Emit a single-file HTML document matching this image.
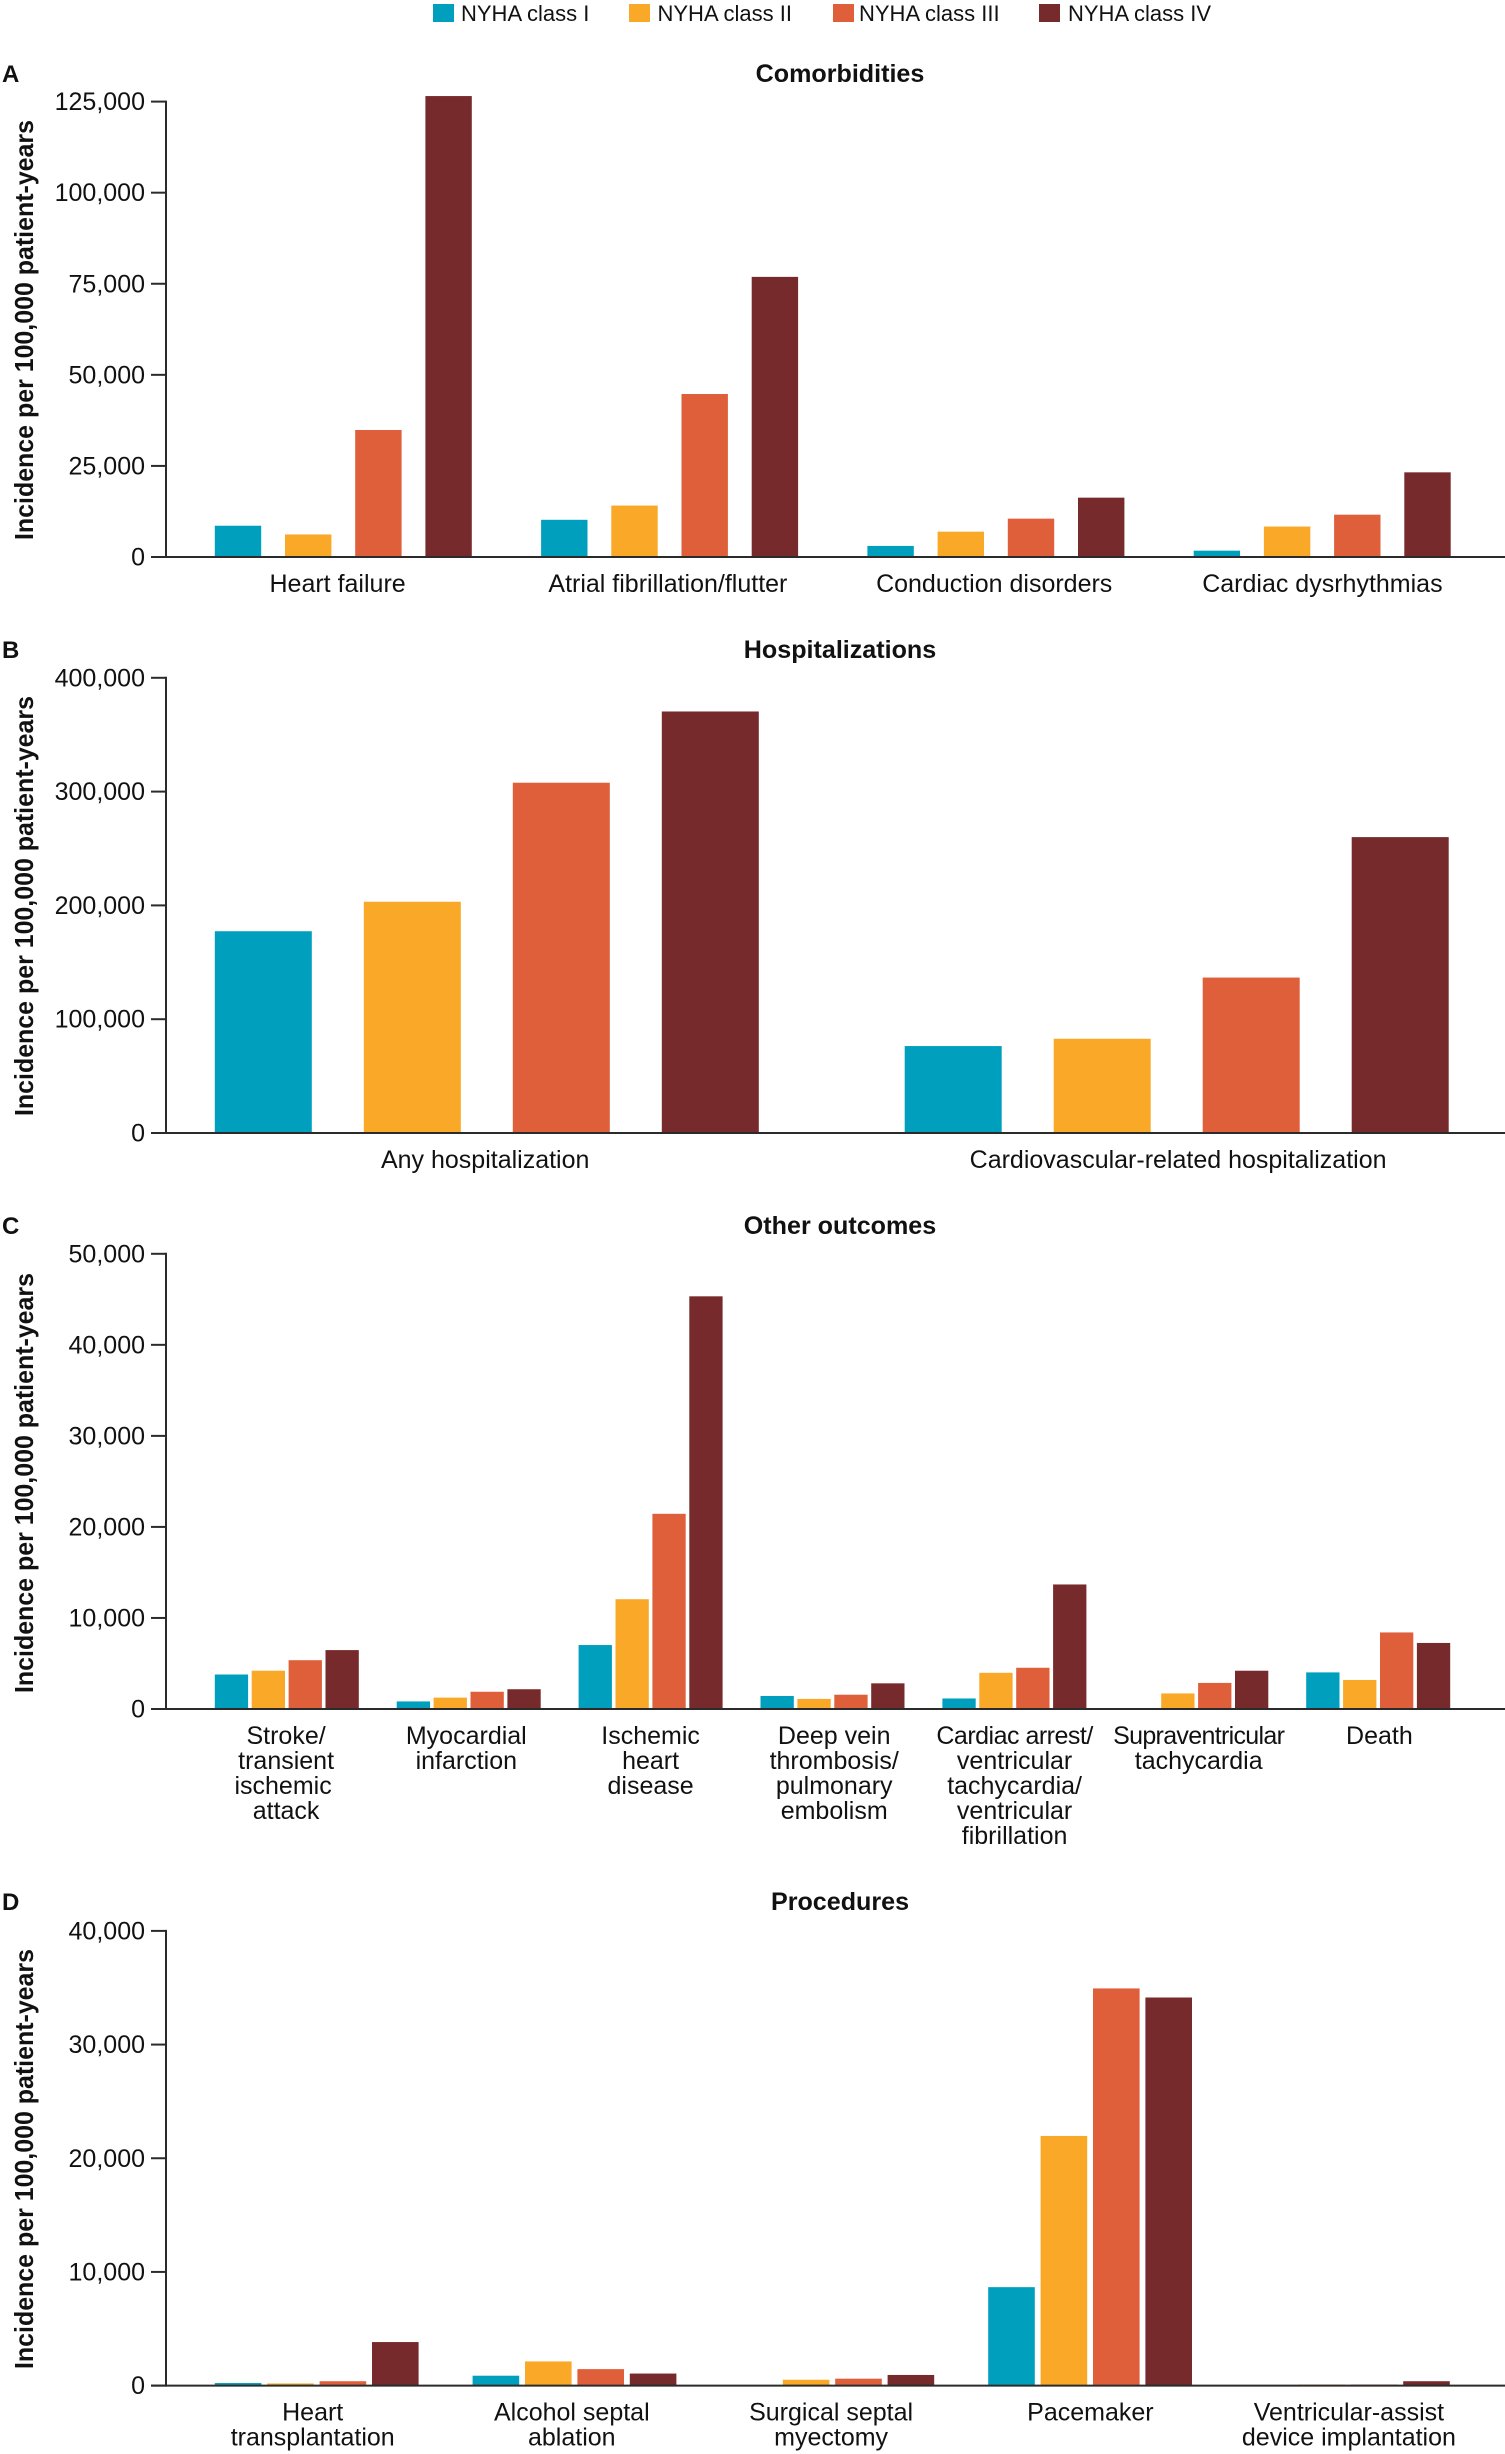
<!DOCTYPE html>
<html lang="en">
<head>
<meta charset="utf-8">
<title>Incidence by NYHA class</title>
<style>
html,body{margin:0;padding:0;background:#fff;}
svg{display:block;}
text{font-family:"Liberation Sans",sans-serif;fill:#111;}
.tick{font-size:25px;text-anchor:end;}
.cat{font-size:25px;text-anchor:middle;}
.legend{font-size:22px;}
.title{font-size:25.1px;font-weight:bold;text-anchor:middle;}
.letter{font-size:24px;font-weight:bold;}
.ytitle{font-size:26px;font-weight:bold;text-anchor:middle;}
</style>
</head>
<body>
<svg id="chart" xmlns="http://www.w3.org/2000/svg" width="1505" height="2454" viewBox="0 0 1505 2454">
  <g>
    <g><rect x="433" y="4" width="21" height="18" fill="#009FBD"/><text class="legend" x="461" y="21">NYHA class I</text></g>
    <g><rect x="629" y="4" width="21" height="18" fill="#FAA828"/><text class="legend" x="657.5" y="21">NYHA class II</text></g>
    <g><rect x="833" y="4" width="21" height="18" fill="#DE5F3A"/><text class="legend" x="859" y="21">NYHA class III</text></g>
    <g><rect x="1039" y="4" width="21" height="18" fill="#772A2B"/><text class="legend" x="1068" y="21">NYHA class IV</text></g>
  </g>

  <text class="letter" x="2" y="82">A</text>
  <text class="title" x="840" y="82">Comorbidities</text>
  <text class="ytitle" transform="translate(33,330) rotate(-90)" textLength="420" lengthAdjust="spacingAndGlyphs">Incidence per 100,000 patient-years</text>

  <text class="letter" x="2" y="658">B</text>
  <text class="title" x="840" y="658">Hospitalizations</text>
  <text class="ytitle" transform="translate(33,906) rotate(-90)" textLength="420" lengthAdjust="spacingAndGlyphs">Incidence per 100,000 patient-years</text>

  <text class="letter" x="2" y="1234">C</text>
  <text class="title" x="840" y="1234">Other outcomes</text>
  <text class="ytitle" transform="translate(33,1483) rotate(-90)" textLength="420" lengthAdjust="spacingAndGlyphs">Incidence per 100,000 patient-years</text>

  <text class="letter" x="2" y="1910">D</text>
  <text class="title" x="840" y="1910">Procedures</text>
  <text class="ytitle" transform="translate(33,2159) rotate(-90)" textLength="420" lengthAdjust="spacingAndGlyphs">Incidence per 100,000 patient-years</text>
</svg>
<script>
// Series colours
const classColors = ['#009FBD', '#FAA828', '#DE5F3A', '#772A2B'];

// Panel A: comorbidities
const comorbidityCategories = [['Heart failure'], ['Atrial fibrillation/flutter'], ['Conduction disorders'], ['Cardiac dysrhythmias']];
const comorbidityTicks = [0, 25000, 50000, 75000, 100000, 125000];
const comorbidityClass1 = [8580, 10210, 3040, 1740];
const comorbidityClass2 = [6190, 14120, 6950, 8360];
const comorbidityClass3 = [34860, 44740, 10530, 11620];
const comorbidityClass4 = [126520, 76890, 16290, 23240];

// Panel B: hospitalizations
const hospitalCategories = [['Any hospitalization'], ['Cardiovascular-related hospitalization']];
const hospitalTicks = [0, 100000, 200000, 300000, 400000];
const hospitalClass1 = [177300, 76400];
const hospitalClass2 = [203200, 82800];
const hospitalClass3 = [307800, 136600];
const hospitalClass4 = [370400, 260000];

// Panel C: other outcomes
const outcomeCategories = [
  ['Stroke/', 'transient', 'ischemic', 'attack'],
  ['Myocardial', 'infarction'],
  ['Ischemic', 'heart', 'disease'],
  ['Deep vein', 'thrombosis/', 'pulmonary', 'embolism'],
  ['Cardiac arrest/', 'ventricular', 'tachycardia/', 'ventricular', 'fibrillation'],
  ['Supraventricular', 'tachycardia'],
  ['Death']
];
const outcomeTicks = [0, 10000, 20000, 30000, 40000, 50000];
const outcomeClass1 = [3790, 830, 7025, 1430, 1155, 0, 4020];
const outcomeClass2 = [4205, 1250, 12060, 1110, 3975, 1710, 3190];
const outcomeClass3 = [5360, 1895, 21440, 1570, 4530, 2865, 8410];
const outcomeClass4 = [6470, 2170, 45330, 2820, 13680, 4205, 7255];

// Panel D: procedures
const procedureCategories = [
  ['Heart', 'transplantation'],
  ['Alcohol septal', 'ablation'],
  ['Surgical septal', 'myectomy'],
  ['Pacemaker'],
  ['Ventricular-assist', 'device implantation']
];
const procedureTicks = [0, 10000, 20000, 30000, 40000];
const procedureClass1 = [225, 870, 0, 8660, 0];
const procedureClass2 = [190, 2125, 515, 21960, 95];
const procedureClass3 = [385, 1450, 610, 34940, 95];
const procedureClass4 = [3830, 1060, 935, 34140, 385];

const SVG_NS = 'http://www.w3.org/2000/svg';
const svgRoot = document.getElementById('chart');

function makeEl(tag, parent, attrs) {
  const el = document.createElementNS(SVG_NS, tag);
  for (const k in attrs) el.setAttribute(k, attrs[k]);
  parent.appendChild(el);
  return el;
}

function formatTick(v) {
  return v.toString().replace(/\B(?=(\d{3})+$)/g, ',');
}

function drawPanel(p) {
  const g = makeEl('g', svgRoot, {});
  
  

  const maxTick = p.ticks[p.ticks.length - 1];
  const yScale = v => p.base - (v / maxTick) * (p.base - p.top);
  const groupX = i => p.firstX + i * p.groupStep;
  const barX = (i, s) => groupX(i) + s * p.barStep;

  // bars
  p.series.forEach((values, s) => {
    values.forEach((v, i) => {
      const rect = makeEl('rect', g, {
        x: barX(i, s).toFixed(2),
        y: yScale(v).toFixed(2),
        width: p.barW,
        height: (p.base - yScale(v)).toFixed(2),
        fill: classColors[s]
      });
      
      
    });
  });

  // axes
  const yAxis = makeEl('line', g, { x1: 166, x2: 166, y1: p.top - 1, y2: p.base + 1, stroke: '#2b2b2b', 'stroke-width': 2 });
  
  
  const xAxis = makeEl('line', g, { x1: 151, x2: 1505, y1: p.base, y2: p.base, stroke: '#2b2b2b', 'stroke-width': 2 });
  
  

  // ticks
  p.ticks.forEach(t => {
    const y = yScale(t);
    const mark = makeEl('line', g, { x1: 151, x2: 166, y1: y, y2: y, stroke: '#2b2b2b', 'stroke-width': 2 });
    
    
    const label = makeEl('text', g, { class: 'tick', x: 145, y: (y + 8.5).toFixed(2) });
    
    
    label.textContent = formatTick(t);
  });

  // category labels
  const tightLines = { 'Supraventricular': '-0.68px', 'Cardiac arrest/': '-0.5px' };
  const shiftedLines = { 'ischemic': -3 };
  p.categories.forEach((lines, i) => {
    const center = groupX(i) + (3 * p.barStep + p.barW) / 2 + p.labelNudge[i];
    const label = makeEl('text', g, { class: 'cat' });
    
    
    lines.forEach((line, l) => {
      const span = makeEl('tspan', label, { x: (center + (shiftedLines[line] || 0)).toFixed(2), y: p.base + 35 + l * 25 });
      if (tightLines[line]) span.style.letterSpacing = tightLines[line];
      span.textContent = line;
    });
  });
}

drawPanel({
  id: 'a', top: 101.6, base: 557, firstX: 214.8, groupStep: 326.3, barW: 46.4, barStep: 70.2,
  ticks: comorbidityTicks, categories: comorbidityCategories,
  series: [comorbidityClass1, comorbidityClass2, comorbidityClass3, comorbidityClass4],
  labelNudge: [-5.7, -1.7, -1.7, 0.2]
});
drawPanel({
  id: 'b', top: 677.8, base: 1133, firstX: 214.8, groupStep: 689.9, barW: 97, barStep: 149,
  ticks: hospitalTicks, categories: hospitalCategories,
  series: [hospitalClass1, hospitalClass2, hospitalClass3, hospitalClass4],
  labelNudge: [-1.6, 1.4]
});
drawPanel({
  id: 'c', top: 1253.8, base: 1709, firstX: 214.8, groupStep: 181.9, barW: 33.3, barStep: 36.9,
  ticks: outcomeTicks, categories: outcomeCategories,
  series: [outcomeClass1, outcomeClass2, outcomeClass3, outcomeClass4],
  labelNudge: [-0.7, -2.4, 0, 1.7, 0.2, 2.4, 1.2]
});
drawPanel({
  id: 'd', top: 1930.9, base: 2385.6, firstX: 214.8, groupStep: 257.8, barW: 46.6, barStep: 52.4,
  ticks: procedureTicks, categories: procedureCategories,
  series: [procedureClass1, procedureClass2, procedureClass3, procedureClass4],
  labelNudge: [-4, -2.7, -1.2, 0.3, 1]
});
</script>
</body>
</html>
